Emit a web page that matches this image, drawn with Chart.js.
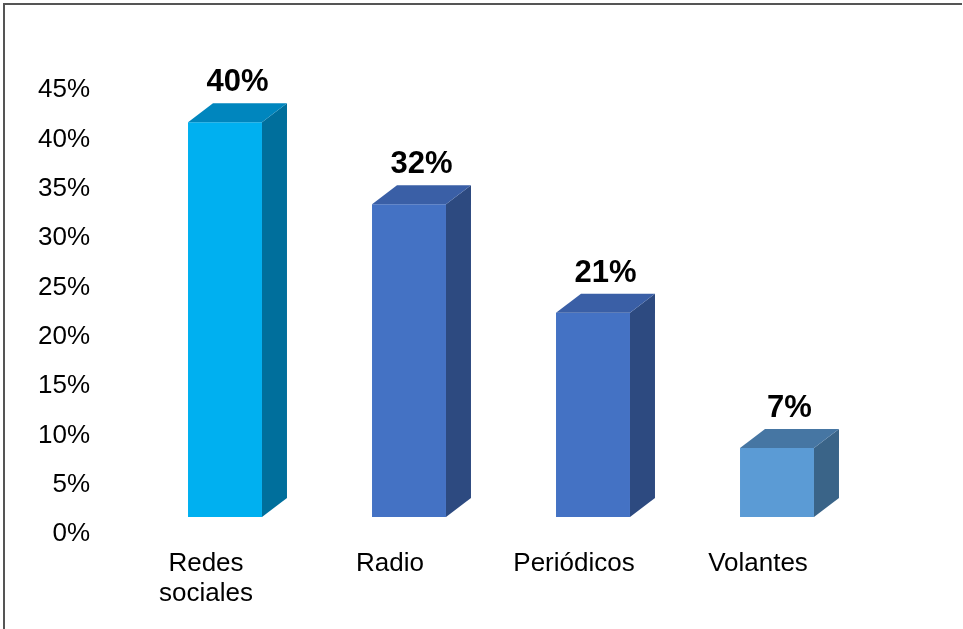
<!DOCTYPE html>
<html>
<head>
<meta charset="utf-8">
<script src="https://cdn.jsdelivr.net/npm/chart.js@4.4.1/dist/chart.umd.min.js"></script>
<style>
  html,body{margin:0;padding:0;background:#fff;}
  #wrap{width:963px;height:629px;position:relative;}
</style>
</head>
<body>
<div id="wrap"><canvas id="c" width="963" height="629"></canvas></div>
<script>
// data
const categories=[["Redes","sociales"],"Radio","Periódicos","Volantes"]
const shares=[40,31.7,20.7,7]
const frontColors=["#00B0F0","#4472C4","#4472C4","#5B9BD5"]
const topColors=["#0086BE","#3A5FA6","#3A5FA6","#4676A3"]
const sideColors=["#006F9C","#2D4A80","#2D4A80","#3A6488"]

const DX=25, DY=19

// draws the 3d sides, tops and value labels on top of the front faces
const cubes={
  id:"cubes",
  afterDatasetsDraw(chart){
    const ctx=chart.ctx
    const meta=chart.getDatasetMeta(0)
    meta.data.forEach((bar,i)=>{
      const l=bar.x-bar.width/2, r=bar.x+bar.width/2
      const t=bar.y, b=bar.base
      ctx.save()
      // side
      ctx.fillStyle=sideColors[i]
      ctx.beginPath()
      ctx.moveTo(r,b); ctx.lineTo(r,t); ctx.lineTo(r+DX,t-DY); ctx.lineTo(r+DX,b-DY); ctx.closePath()
      ctx.fill()
      // top
      ctx.fillStyle=topColors[i]
      ctx.beginPath()
      ctx.moveTo(l,t); ctx.lineTo(r,t); ctx.lineTo(r+DX,t-DY); ctx.lineTo(l+DX,t-DY); ctx.closePath()
      ctx.fill()
      // label
      ctx.fillStyle="#000"
      ctx.font="bold 31px 'Liberation Sans', Arial, sans-serif"
      ctx.textAlign="center"
      ctx.textBaseline="alphabetic"
      ctx.fillText(Math.round(shares[i])+"%",bar.x+DX/2,t-31)
      ctx.restore()
    })
  },
  afterDraw(chart){
    const ctx=chart.ctx
    ctx.save()
    ctx.strokeStyle="#555"
    ctx.lineWidth=2
    ctx.beginPath()
    ctx.moveTo(4,629); ctx.lineTo(4,4); ctx.lineTo(962,4)
    ctx.stroke()
    ctx.restore()
  }
}

new Chart(document.getElementById("c"),{
  type:"bar",
  data:{
    labels:categories,
    datasets:[{
      data:shares,
      backgroundColor:frontColors,
      borderWidth:0,
      categoryPercentage:1,
      barPercentage:0.402
    }]
  },
  options:{
    responsive:false,
    animation:false,
    layout:{padding:{left:0,right:94,top:73,bottom:0}},
    plugins:{legend:{display:false},tooltip:{enabled:false}},
    scales:{
      x:{
        grid:{display:false,drawTicks:false},
        border:{display:false},
        afterFit(s){s.height=112},
        ticks:{
          color:"#000",
          padding:32,
          labelOffset:-19,
          maxRotation:0,
          font:{family:"'Liberation Sans', Arial, sans-serif",size:26,lineHeight:1.15}
        }
      },
      y:{
        min:0,max:45,
        grid:{display:false,drawTicks:false},
        border:{display:false},
        afterFit(s){s.width=133},
        ticks:{
          stepSize:5,
          color:"#000",
          padding:43,
          labelOffset:17,
          callback:v=>v+"%",
          font:{family:"'Liberation Sans', Arial, sans-serif",size:26}
        }
      }
    }
  },
  plugins:[cubes]
})
</script>
</body>
</html>
